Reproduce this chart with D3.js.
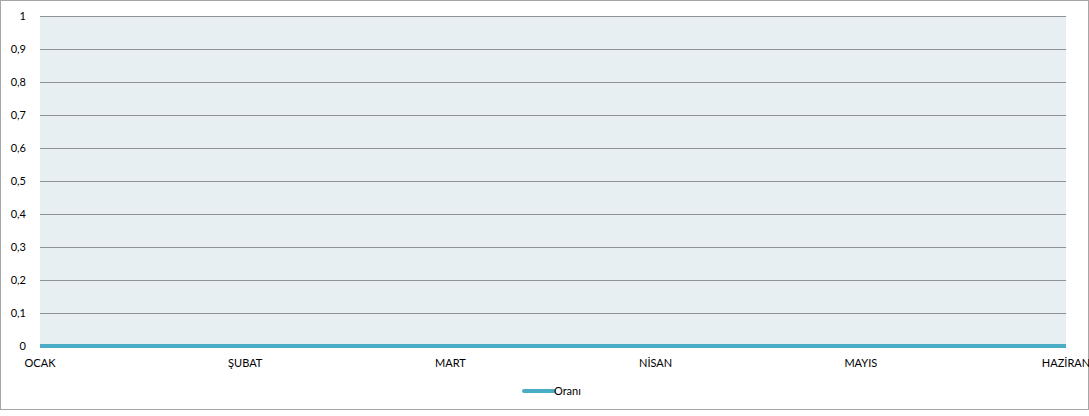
<!DOCTYPE html>
<html>
<head>
<meta charset="utf-8">
<script src="https://cdn.jsdelivr.net/npm/d3@7"></script>
<style>
  body { margin: 0; background: #fff; }
  svg text { font-family: Lato, "Open Sans", sans-serif; font-size: 11px; fill: #000; }
</style>
</head>
<body>
<div id="chart"></div>
<script>
const months = ['OCAK', 'ŞUBAT', 'MART', 'NİSAN', 'MAYIS', 'HAZİRAN'];
const oraniValues = [0, 0, 0, 0, 0, 0];
const yTicks = [0, 0.1, 0.2, 0.3, 0.4, 0.5, 0.6, 0.7, 0.8, 0.9, 1];
const seriesName = 'Oranı';

const width = 1089;
const height = 416;
const plot = { left: 40, right: 1066, top: 16, bottom: 346 };

const svg = d3.select('#chart')
  .append('svg')
  .attr('width', width)
  .attr('height', height);

// outer frame
svg.append('rect')
  .attr('x', 0.5).attr('y', 0.5)
  .attr('width', width - 1).attr('height', 409)
  .attr('fill', '#fff')
  .attr('stroke', '#a6a6a6');

const x = d3.scalePoint()
  .domain(months)
  .range([plot.left, plot.right]);

const y = d3.scaleLinear()
  .domain([0, 1])
  .range([plot.bottom, plot.top]);

// plot background
svg.append('rect')
  .attr('x', plot.left).attr('y', plot.top)
  .attr('width', plot.right - plot.left)
  .attr('height', plot.bottom - plot.top)
  .attr('fill', '#e8eff2');

// grid lines
svg.append('g')
  .selectAll('line')
  .data(yTicks)
  .enter()
  .append('line')
  .attr('x1', plot.left)
  .attr('x2', plot.right)
  .attr('y1', d => y(d) + 0.5)
  .attr('y2', d => y(d) + 0.5)
  .attr('stroke', '#8c9296')
  .attr('stroke-width', 1);

// y labels
const fmt = d => String(d).replace('.', ',');
svg.append('g')
  .selectAll('text')
  .data(yTicks)
  .enter()
  .append('text')
  .attr('x', 26)
  .attr('y', d => y(d) + 4)
  .attr('text-anchor', 'end')
  .text(fmt);

// x labels
svg.append('g')
  .selectAll('text')
  .data(months)
  .enter()
  .append('text')
  .attr('x', d => x(d))
  .attr('y', 367)
  .attr('text-anchor', 'middle')
  .text(d => d);

// series line
const line = d3.line()
  .x((d, i) => x(months[i]))
  .y(d => y(d));

svg.append('path')
  .datum(oraniValues)
  .attr('d', line)
  .attr('fill', 'none')
  .attr('stroke', '#4bacc6')
  .attr('stroke-width', 4);

// legend
const legend = svg.append('g').attr('transform', 'translate(524, 391)');
legend.append('line')
  .attr('x1', 0).attr('x2', 30)
  .attr('y1', 0).attr('y2', 0)
  .attr('stroke', '#4bacc6')
  .attr('stroke-width', 4)
  .attr('stroke-linecap', 'round');
legend.append('text')
  .attr('x', 30)
  .attr('y', 4)
  .text(seriesName);
</script>
</body>
</html>
